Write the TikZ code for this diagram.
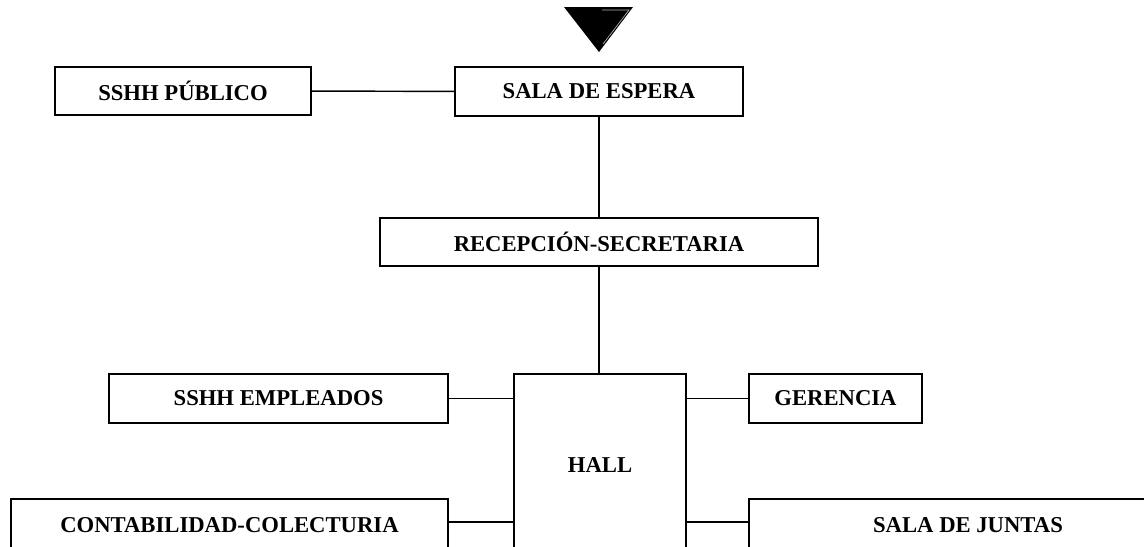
\documentclass[tikz,border=0pt]{standalone}
\usepackage{fontspec}
\setmainfont{Liberation Serif}
\begin{document}
\begin{tikzpicture}[x=0.75pt,y=-0.75pt,
  room/.style={draw,line width=1.1pt,inner sep=0pt,font=\fontsize{17}{20}\selectfont\bfseries}]
\clip (0,0) rectangle (1144,546);
\fill[black] (564,7) -- (633,7) -- (599,52) -- cycle;
\draw[gray!60,line width=0.5pt] (602,10) -- (629,10) -- (603,44);
\node[room,minimum width=192pt,minimum height=36pt] (publico) at (183,91) {SSHH PÚBLICO};
\node[room,minimum width=216pt,minimum height=36.75pt] (espera) at (599,91.5) {SALA DE ESPERA};
\node[room,minimum width=328.5pt,minimum height=36pt] (recep) at (599,242) {RECEPCIÓN-SECRETARIA};
\node[room,minimum width=129pt,minimum height=136.5pt] (hall) at (600,465) {HALL};
\node[room,minimum width=254.25pt,minimum height=36.75pt] (empleados) at (278.5,398.5) {SSHH EMPLEADOS};
\node[room,minimum width=129.75pt,minimum height=36.75pt] (gerencia) at (835.5,398.5) {GERENCIA};
\node[room,minimum width=327.75pt,minimum height=39pt] (conta) at (229.5,525) {CONTABILIDAD-COLECTURIA};
\node[room,minimum width=328.5pt,minimum height=39pt] (juntas) at (968,525) {SALA DE JUNTAS};
\draw[line width=1.1pt] (publico) -- (espera);
\draw[line width=1.1pt] (espera) -- (recep);
\draw[line width=1.1pt] (recep) -- (recep |- hall.north);
\draw[line width=1.1pt] (empleados) -- (hall.west |- empleados);
\draw[line width=1.1pt] (gerencia) -- (hall.east |- gerencia);
\draw[line width=1.1pt] ([yshift=2.25pt]conta.east) -- ([yshift=2.25pt]hall.west |- conta);
\draw[line width=1.1pt] ([yshift=2.25pt]juntas.west) -- ([yshift=2.25pt]hall.east |- juntas);
\end{tikzpicture}
\end{document}
